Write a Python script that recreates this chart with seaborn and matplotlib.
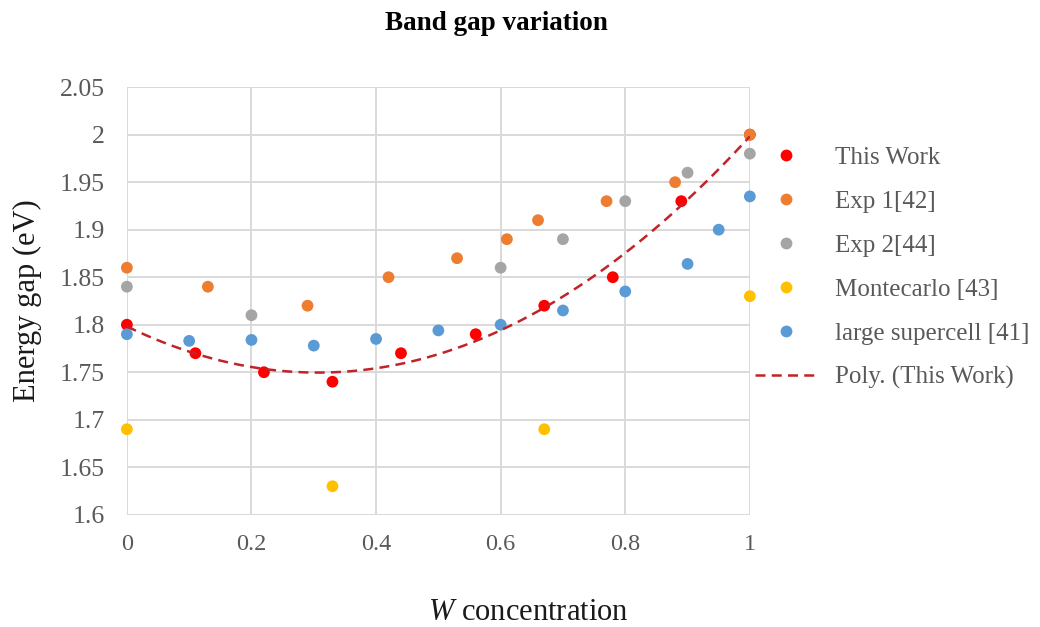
import numpy as np
import pandas as pd
import matplotlib
matplotlib.use("Agg")
import matplotlib.pyplot as plt
import seaborn as sns
from matplotlib.lines import Line2D

# ---- data ----
this_x = [0, 0.11, 0.22, 0.33, 0.44, 0.56, 0.67, 0.78, 0.89, 1.0]
this_y = [1.80, 1.77, 1.75, 1.74, 1.77, 1.79, 1.82, 1.85, 1.93, 2.00]
exp1_x = [0, 0.13, 0.29, 0.42, 0.53, 0.61, 0.66, 0.77, 0.88, 1.0]
exp1_y = [1.86, 1.84, 1.82, 1.85, 1.87, 1.89, 1.91, 1.93, 1.95, 2.00]
exp2_x = [0, 0.2, 0.6, 0.7, 0.8, 0.9, 1.0]
exp2_y = [1.84, 1.81, 1.86, 1.89, 1.93, 1.96, 1.98]
mc_x = [0, 0.33, 0.67, 1.0]
mc_y = [1.69, 1.63, 1.69, 1.83]
sc_x = [0, 0.1, 0.2, 0.3, 0.4, 0.5, 0.6, 0.7, 0.8, 0.9, 0.95, 1.0]
sc_y = [1.79, 1.783, 1.784, 1.778, 1.785, 1.794, 1.80, 1.815, 1.835, 1.864, 1.90, 1.935]

series_names = ["This Work", "Exp 1[42]", "Exp 2[44]", "Montecarlo [43]", "large supercell [41]"]
trend_name = "Poly. (This Work)"
colors = ["#FF0000", "#ED7D31", "#A5A5A5", "#FFC000", "#5B9BD5"]
trend_color = "#C0232A"

x_ticks = [0, 0.2, 0.4, 0.6, 0.8, 1]
x_tick_labels = ["0", "0.2", "0.4", "0.6", "0.8", "1"]
y_ticks = [1.6, 1.65, 1.7, 1.75, 1.8, 1.85, 1.9, 1.95, 2.0, 2.05]
y_tick_labels = ["1.6", "1.65", "1.7", "1.75", "1.8", "1.85", "1.9", "1.95", "2", "2.05"]

frames = []
for name, xs, ys in zip(series_names,
                        [this_x, exp1_x, exp2_x, mc_x, sc_x],
                        [this_y, exp1_y, exp2_y, mc_y, sc_y]):
    frames.append(pd.DataFrame({"x": xs, "y": ys, "series": name}))
df = pd.concat(frames, ignore_index=True)

# ---- style ----
sns.set_theme(style="white")
plt.rcParams["font.family"] = ["Liberation Serif", "DejaVu Serif"]
plt.rcParams["mathtext.fontset"] = "custom"
plt.rcParams["mathtext.it"] = "Liberation Serif:italic"
plt.rcParams["mathtext.rm"] = "Liberation Serif"

fig = plt.figure(figsize=(10.4, 6.27), dpi=100)
ax = fig.add_axes([0.122, 0.179, 0.599, 0.682])

txt_gray = "#595959"
grid_gray = "#D9D9D9"
dash = (0, (4, 2.5))

# trendline (2nd order polynomial fit of This Work)
coef = np.polyfit(this_x, this_y, 2)
xx = np.linspace(0, 1, 200)
trend_df = pd.DataFrame({"x": xx, "y": np.polyval(coef, xx)})

sns.scatterplot(data=df, x="x", y="y", hue="series", hue_order=series_names,
                palette=colors, s=72, edgecolor="none", linewidth=0,
                ax=ax, legend=False, zorder=3, clip_on=False)
sns.lineplot(data=trend_df, x="x", y="y", ax=ax, color=trend_color,
             linestyle=dash, linewidth=1.8, zorder=4, legend=False)

ax.set_xlim(0, 1)
ax.set_ylim(1.6, 2.05)
ax.set_xticks(x_ticks)
ax.set_xticklabels(x_tick_labels)
ax.set_yticks(y_ticks)
ax.set_yticklabels(y_tick_labels)
ax.tick_params(axis="x", length=0, labelsize=17.5, colors=txt_gray, pad=14)
ax.tick_params(axis="y", length=0, labelsize=18.5, colors=txt_gray, pad=16)
ax.grid(True, color=grid_gray, linewidth=1.4)
ax.set_axisbelow(True)
for sp in ax.spines.values():
    sp.set_visible(False)

ax.set_xlabel("")
ax.set_ylabel("Energy gap (eV)", fontsize=22, color="#1a1a1a", labelpad=13)
fig.text(0.508, 1 - 612 / 627, r"$W$ concentration", fontsize=22,
         color="#1a1a1a", ha="center", va="center")
fig.text(0.477, 1 - 23 / 627, "Band gap variation", fontsize=19.5,
         fontweight="bold", color="black", ha="center", va="center")

handles = [Line2D([0], [0], marker="o", linestyle="none", markersize=8.5,
                  markerfacecolor=c, markeredgecolor="none") for c in colors]
handles.append(Line2D([0], [0], color=trend_color, linestyle=dash, linewidth=1.8))
leg = fig.legend(handles, series_names + [trend_name], loc="upper left",
                 bbox_to_anchor=(0.726, 0.767), frameon=False, fontsize=18,
                 labelspacing=0.86, handlelength=2.5, handletextpad=0.68,
                 borderpad=0, borderaxespad=0)
for t in leg.get_texts():
    t.set_color(txt_gray)

fig.savefig("out.png", dpi=100)
